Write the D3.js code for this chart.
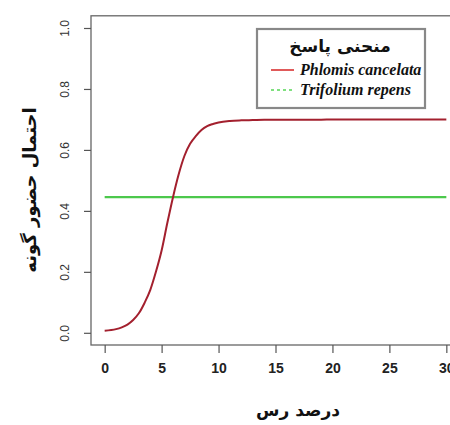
<!DOCTYPE html>
<html><head><meta charset="utf-8">
<script src="https://cdn.jsdelivr.net/npm/d3@7"></script>
<style>html,body{margin:0;padding:0;background:#fff;}svg{display:block;}</style>
</head><body>
<svg id="c" width="450" height="425"></svg>
<script>
// Data
const xValues = [0,1,1.5,2,2.5,3,3.5,4,4.5,5,5.5,6,6.5,7,7.5,8,8.5,9,9.5,10,11,12,13,14,15,16,17,18,19,20,21,22,23,24,25,26,27,28,29,30];
const phlomis = [0.007,0.012,0.018,0.027,0.042,0.064,0.098,0.14,0.20,0.27,0.36,0.445,0.52,0.58,0.62,0.645,0.665,0.678,0.685,0.690,0.695,0.697,0.698,0.699,0.699,0.699,0.699,0.699,0.699,0.70,0.70,0.70,0.70,0.70,0.70,0.70,0.70,0.70,0.70,0.70];
const trifoliumX = [0,30];
const trifolium = [0.445,0.445];
const xTicks = [0,5,10,15,20,25,30];
const yTicks = [0.0,0.2,0.4,0.6,0.8,1.0];
const yTickLabels = ["0.0","0.2","0.4","0.6","0.8","1.0"];
const seriesNames = ["Phlomis cancelata","Trifolium repens"];
const legendTitle = "منحنی پاسخ";
const xTitle = "درصد رس";
const yTitle = "احتمال حضور گونه";

const svg = d3.select("#c");
const x = d3.scaleLinear().domain([-1.2, 31.2]).range([91, 460]);
const y = d3.scaleLinear().domain([-0.04, 1.04]).range([345, 15.8]);

// frame
svg.append("rect").attr("x",91).attr("y",15.8).attr("width",369).attr("height",329.2)
  .attr("fill","none").attr("stroke","#666").attr("stroke-width",1.3);

// x axis
const xa = svg.append("g").attr("transform","translate(0,345)")
  .call(d3.axisBottom(x).tickValues(xTicks).tickSize(8).tickPadding(10).tickFormat(d3.format("d")));
xa.select(".domain").remove();
xa.selectAll("line").attr("stroke","#555").attr("stroke-width",1.2);
xa.selectAll("text").attr("font-family","Liberation Sans, Arial, sans-serif").attr("font-size",14)
  .attr("font-weight","bold").attr("fill","#222");

// y axis
const ya = svg.append("g").attr("transform","translate(91,0)")
  .call(d3.axisLeft(y).tickValues(yTicks).tickSize(7).tickFormat((d,i)=>yTickLabels[i]));
ya.select(".domain").remove();
ya.selectAll("line").attr("stroke","#555").attr("stroke-width",1.2);
ya.selectAll("text").attr("font-family","Liberation Sans, Arial, sans-serif").attr("font-size",12)
  .attr("fill","#333").attr("text-anchor","middle").attr("dy","0.35em")
  .attr("x",0).attr("transform",function(d){return "translate(-26,0) rotate(-90)";});

const line = d3.line().curve(d3.curveMonotoneX);

svg.append("path").attr("d",line(trifoliumX.map((v,i)=>[x(v),y(trifolium[i])]))).attr("fill","none")
  .attr("stroke","#4cc84c").attr("stroke-width",2.2);
svg.append("path").attr("d",line(xValues.map((v,i)=>[x(v),y(phlomis[i])]))).attr("fill","none")
  .attr("stroke","#a3202e").attr("stroke-width",2);

// legend
const lg = svg.append("g");
lg.append("rect").attr("x",257).attr("y",29).attr("width",168).attr("height",79)
  .attr("fill","#fff").attr("stroke","#888").attr("stroke-width",2.2);
lg.append("text").attr("x",340).attr("y",52).attr("text-anchor","middle")
  .attr("font-family","DejaVu Sans, sans-serif").attr("font-weight","bold").attr("font-size",17)
  .attr("fill","#111").text(legendTitle);
const legColors = ["#e05a5a","#7fe07f"];
const legDash = [null,"3,3"];
seriesNames.forEach((n,i)=>{
  const yy = 70 + i*20;
  lg.append("line").attr("x1",271).attr("x2",294).attr("y1",yy).attr("y2",yy)
    .attr("stroke",legColors[i]).attr("stroke-width",2).attr("stroke-dasharray",legDash[i]);
  lg.append("text").attr("x",300).attr("y",yy+5).attr("font-family","Liberation Serif, serif")
    .attr("font-style","italic").attr("font-weight","bold").attr("font-size",16).attr("fill","#111").text(n);
});

// titles
svg.append("text").attr("transform","translate(36,190) rotate(-90)").attr("text-anchor","middle")
  .attr("font-family","DejaVu Sans, sans-serif").attr("font-weight","bold").attr("font-size",18)
  .attr("fill","#111").text(yTitle);
svg.append("text").attr("x",298).attr("y",416).attr("text-anchor","middle")
  .attr("font-family","DejaVu Sans, sans-serif").attr("font-weight","bold").attr("font-size",17)
  .attr("fill","#111").text(xTitle);
</script>
</body></html>
